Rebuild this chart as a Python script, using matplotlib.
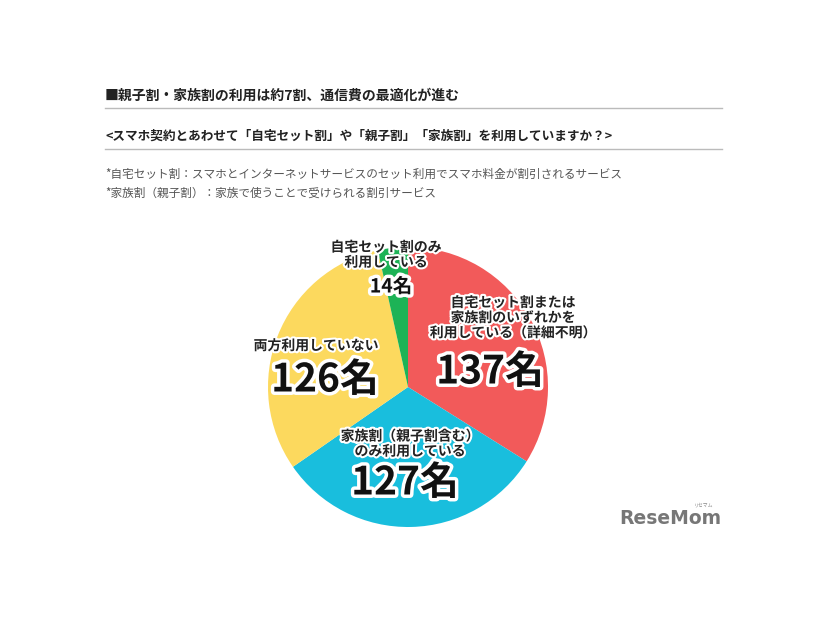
import matplotlib
matplotlib.use("Agg")
import matplotlib.pyplot as plt
import matplotlib.patheffects as pe

plt.rcParams['font.family'] = ['Noto Sans CJK JP', 'DejaVu Sans']

title = "■親子割・家族割の利用は約7割、通信費の最適化が進む"
question = "<スマホ契約とあわせて「自宅セット割」や「親子割」「家族割」を利用していますか？>"
notes = ["*自宅セット割：スマホとインターネットサービスのセット利用でスマホ料金が割引されるサービス",
         "*家族割（親子割）：家族で使うことで受けられる割引サービス"]

# clockwise from 12 o'clock
labels = ["自宅セット割または\n家族割のいずれかを\n利用している（詳細不明）",
          "家族割（親子割含む）\nのみ利用している",
          "両方利用していない",
          "自宅セット割のみ\n利用している"]
counts = [137, 127, 126, 14]
colors = ["#F25A5A", "#19BEDD", "#FCD95E", "#1DB356"]

# label positions in image pixels (x caption, y caption, x count, y count)
lab_pos = [(513, 318, 490, 372), (410, 444, 405, 483), (316, 346, 325, 380), (386, 255, 391, 287)]
num_size = [28, 28, 28, 14]

W, H = 826, 620
fig = plt.figure(figsize=(W / 100, H / 100), dpi=100)
ax = fig.add_axes([0, 0, 1, 1])

def Y(y):
    return H - y

ax.text(105, Y(96), title, fontsize=10, fontweight="bold", color="#222222", va="center")
ax.plot([105, 722], [Y(108), Y(108)], color="#bbbbbb", lw=1)
ax.text(105, Y(136), question, fontsize=9.1, fontweight="bold", color="#222222", va="center")
ax.plot([105, 722], [Y(149), Y(149)], color="#bbbbbb", lw=1)
for i, n in enumerate(notes):
    ax.text(105, Y(174 + i * 19), n, fontsize=8.4, color="#555555", va="center")

ax.pie(counts, colors=colors, startangle=90, counterclock=False,
       center=(408, Y(387)), radius=140, frame=True,
       wedgeprops=dict(linewidth=0))
ax.set_xlim(0, W)
ax.set_ylim(0, H)
ax.axis("off")

stroke = [pe.withStroke(linewidth=3, foreground="white")]
stroke_big = [pe.withStroke(linewidth=5, foreground="white")]
for lab, c, (xl, yl, xn, yn), fs in zip(labels, counts, lab_pos, num_size):
    ax.text(xl, Y(yl), lab, fontsize=10, fontweight="bold", color="#222222",
            ha="center", va="center", linespacing=1.1, path_effects=stroke)
    ax.text(xn, Y(yn), f"{c}名", fontsize=fs, fontweight="bold", color="#111111",
            ha="center", va="center", path_effects=stroke_big)

ax.text(670, Y(518), "ReseMom", fontsize=13.5, fontweight="bold", color="#777777",
        ha="center", va="center", family="DejaVu Sans")
ax.text(704, Y(505), "リセマム", fontsize=3.5, color="#888888", ha="center", va="center")

fig.savefig("out.png", dpi=100)
